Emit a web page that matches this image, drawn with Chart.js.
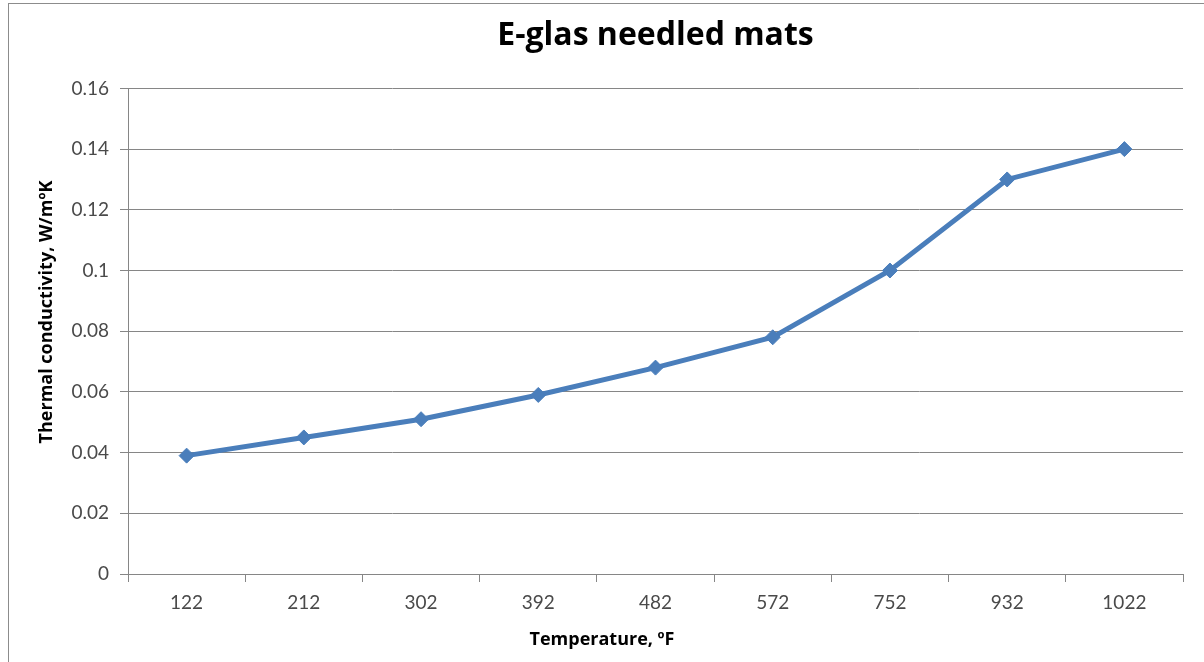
<!DOCTYPE html>
<html>
<head>
<meta charset="utf-8">
<script src="https://cdn.jsdelivr.net/npm/chart.js@4/dist/chart.umd.min.js"></script>
<style>
  body { margin: 0; background: #fff; }
  .wrap { position: relative; width: 1204px; height: 662px; overflow: hidden; }
  .frame { position: absolute; left: 8px; top: 3px; width: 1300px; height: 800px; border: 1px solid #8c8c8c; pointer-events: none; }
  canvas { position: absolute; left: 0; top: 0; }
</style>
</head>
<body>
<div class="wrap">
  <canvas id="chartCanvas" width="1204" height="662"></canvas>
  <div class="frame"></div>
</div>
<script>
// 온도 (x축 카테고리)
const temps = ['122', '212', '302', '392', '482', '572', '752', '932', '1022'];
// 열전도율 값
const conductivity = [0.039, 0.045, 0.051, 0.059, 0.068, 0.078, 0.1, 0.13, 0.14];
// y축 눈금
const yTicks = [0, 0.02, 0.04, 0.06, 0.08, 0.1, 0.12, 0.14, 0.16];

const lineBlue = '#4a7ebb';
const gridGray = '#868686';
const labelGray = '#4a4a4a';

// 축 제목 (엑셀처럼 조금 치우쳐 있음)
const axisTitles = {
    id: 'axisTitles',
    afterDraw(chart) {
        const c = chart.ctx;
        c.save();
        c.fillStyle = '#000';
        c.font = 'bold 18px "Open Sans"';
        c.textAlign = 'center';
        c.textBaseline = 'middle';
        c.fillText('Temperature, ºF', 602, 640);
        c.translate(47, 312);
        c.rotate(-Math.PI / 2);
        c.fillText('Thermal conductivity, W/mºK', 0, 0);
        c.restore();
    }
};

let ctx = document.getElementById('chartCanvas').getContext('2d');

window.lineChart = new Chart(ctx, {
    type: 'line',
    data: {
        labels: temps,
        datasets: [{
            data: conductivity,
            borderColor: lineBlue,
            backgroundColor: lineBlue,
            borderWidth: 5,
            pointStyle: 'rectRot',
            pointRadius: 7.5,
            pointBorderWidth: 1,
            tension: 0
        }]
    },
    options: {
        responsive: false,
        animation: false,
        layout: { padding: { left: 0, right: 21, top: 0, bottom: 0 } },
        plugins: {
            legend: { display: false },
            tooltip: { enabled: false },
            title: {
                display: true,
                fullSize: false,
                text: 'E-glas needled mats',
                color: '#000',
                font: { family: 'Open Sans', size: 32, weight: 'bold' },
                padding: { top: 17, bottom: 33 }
            }
        },
        scales: {
            x: {
                type: 'category',
                offset: true,
                grid: {
                    offset: true,
                    drawOnChartArea: false,
                    drawTicks: true,
                    tickLength: 8,
                    color: gridGray
                },
                border: { display: true, color: gridGray, width: 1 },
                ticks: {
                    color: labelGray,
                    font: { family: 'Lato', size: 19 },
                    padding: 9,
                    maxRotation: 0
                },
                afterFit: scale => { scale.height = 88; }
            },
            y: {
                min: 0,
                max: 0.16,
                afterBuildTicks: scale => {
                    scale.ticks = yTicks.map(v => ({ value: v }));
                },
                grid: {
                    color: gridGray,
                    tickLength: 8,
                    drawTicks: true
                },
                border: { display: true, color: gridGray, width: 1 },
                ticks: {
                    color: labelGray,
                    font: { family: 'Lato', size: 19 },
                    padding: 11,
                    callback: v => String(v)
                },
                afterFit: scale => { scale.width = 128; }
            }
        }
    },
    plugins: [axisTitles]
});
</script>
</body>
</html>
